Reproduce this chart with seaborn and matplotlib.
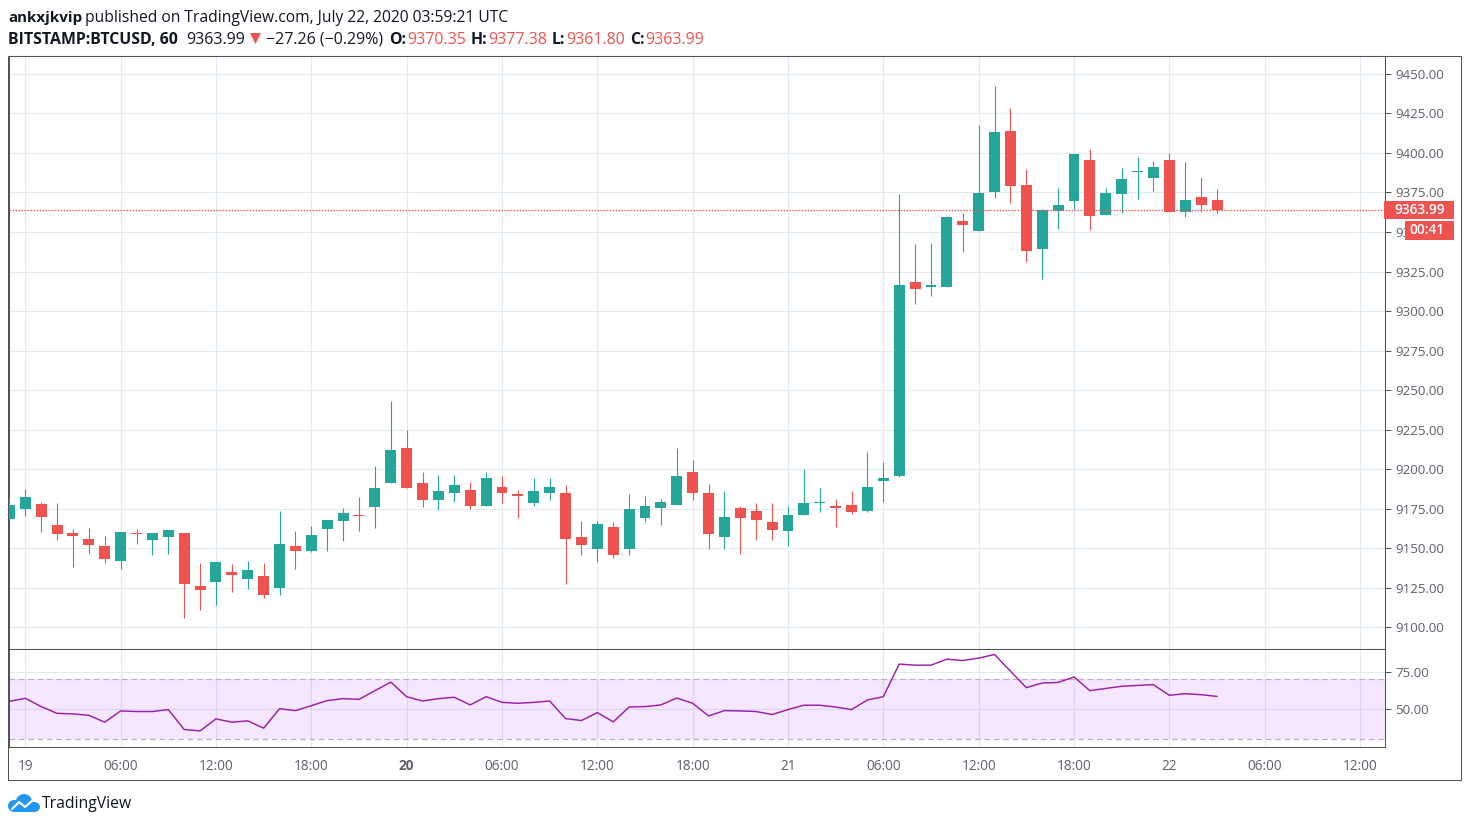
import numpy as np
import pandas as pd
import matplotlib
matplotlib.use("Agg")
import matplotlib.pyplot as plt
from matplotlib.patches import Rectangle, Ellipse, Polygon
import seaborn as sns

# -------------------------------------------------------
# Data (hours counted from Jul 19 00:00)
# -------------------------------------------------------
hours = list(range(-1, 76))

opens = [9168.6, 9174.9, 9178.1, 9164.8, 9159.7, 9155.9, 9151.5, 9142.0, 9159.7, 9155.3,
         9157.2, 9159.7, 9126.2, 9128.7, 9135.0, 9130.6, 9132.5, 9124.9, 9151.5, 9148.3,
         9162.2, 9167.3, 9171.1, 9176.2, 9191.4, 9213.5, 9191.4, 9180.6, 9184.7, 9187.2,
         9176.5, 9189.1, 9184.1, 9179.0, 9185.3, 9185.3, 9156.9, 9149.9, 9163.8, 9149.3,
         9169.5, 9175.8, 9177.7, 9198.6, 9185.3, 9157.5, 9175.8, 9173.9, 9166.4, 9161.3,
         9170.8, 9178.4, 9177.1, 9177.7, 9173.9, 9192.3, 9195.6, 9318.6, 9315.4, 9315.4,
         9357.2, 9350.8, 9375.5, 9414.1, 9380.0, 9339.5, 9363.5, 9369.8, 9395.8, 9361.0,
         9374.3, 9388.2, 9384.4, 9395.8, 9362.9, 9372.4, 9370.35]
highs = [9181.9, 9187.6, 9179.3, 9178.7, 9162.2, 9162.9, 9157.8, 9160.3, 9162.2, 9159.7,
         9161.6, 9159.7, 9140.7, 9142.0, 9140.1, 9142.0, 9140.7, 9173.6, 9161.0, 9164.1,
         9167.9, 9175.5, 9182.5, 9202.1, 9243.2, 9224.9, 9198.3, 9196.4, 9196.1, 9191.7,
         9198.0, 9195.5, 9187.2, 9194.2, 9194.2, 9189.8, 9167.0, 9167.0, 9166.4, 9184.1,
         9183.4, 9180.9, 9213.2, 9205.6, 9190.4, 9186.0, 9176.5, 9178.4, 9179.0, 9176.5,
         9199.9, 9187.9, 9180.9, 9186.0, 9210.7, 9204.3, 9374.3, 9342.6, 9343.2, 9360.3,
         9362.2, 9417.9, 9442.6, 9428.1, 9390.1, 9364.8, 9378.1, 9399.6, 9402.7, 9378.1,
         9390.7, 9397.6, 9395.1, 9400.2, 9394.5, 9385.0, 9377.38]
lows = [9168.6, 9170.5, 9160.3, 9155.3, 9138.2, 9146.4, 9140.7, 9137.0, 9152.7, 9145.8,
        9146.4, 9105.9, 9111.0, 9114.1, 9122.4, 9124.3, 9118.6, 9120.5, 9136.9, 9147.7,
        9148.3, 9154.6, 9161.0, 9162.9, 9191.4, 9188.2, 9176.2, 9174.3, 9179.6, 9174.6,
        9176.5, 9179.0, 9169.5, 9177.1, 9180.3, 9127.7, 9146.1, 9141.7, 9143.6, 9145.5,
        9166.4, 9164.5, 9177.7, 9180.3, 9149.9, 9149.9, 9146.7, 9155.0, 9155.6, 9151.8,
        9170.8, 9172.7, 9163.8, 9172.0, 9172.7, 9179.6, 9195.0, 9304.6, 9309.7, 9315.4,
        9337.5, 9350.8, 9371.7, 9368.6, 9331.2, 9320.5, 9352.1, 9364.8, 9351.5, 9361.0,
        9362.2, 9371.1, 9376.2, 9362.9, 9359.7, 9362.9, 9361.80]
closes = [9177.4, 9182.5, 9169.8, 9159.1, 9157.8, 9152.1, 9143.2, 9160.3, 9159.1, 9159.7,
          9161.6, 9127.4, 9123.6, 9141.4, 9133.1, 9136.3, 9120.5, 9152.7, 9148.3, 9158.4,
          9167.9, 9172.4, 9170.5, 9188.2, 9212.2, 9188.2, 9180.6, 9186.3, 9189.8, 9176.5,
          9194.2, 9184.7, 9182.8, 9186.0, 9188.5, 9156.2, 9152.4, 9165.7, 9145.5, 9175.2,
          9176.5, 9179.6, 9195.5, 9184.7, 9158.8, 9170.1, 9169.5, 9168.2, 9161.9, 9170.8,
          9179.0, 9179.6, 9175.8, 9172.7, 9188.5, 9194.8, 9316.7, 9314.1, 9316.7, 9359.7,
          9354.6, 9374.9, 9413.5, 9379.3, 9338.2, 9364.1, 9367.3, 9399.6, 9360.3, 9374.9,
          9383.8, 9388.8, 9391.4, 9362.9, 9370.5, 9367.3, 9363.99]

rsi = [55.3, 57.3, 51.8, 47.3, 46.9, 46.0, 41.4, 48.9, 48.5, 48.5, 49.8, 36.5, 35.6, 43.6,
       41.4, 42.3, 37.4, 50.4, 49.1, 52.4, 55.8, 57.1, 56.6, 62.4, 68.1, 58.4, 55.5, 57.1,
       58.0, 52.9, 58.4, 54.6, 54.0, 54.6, 55.5, 43.8, 42.5, 47.8, 41.6, 51.5, 51.8, 52.9,
       57.5, 54.0, 45.6, 49.1, 48.9, 48.5, 46.5, 49.8, 52.7, 52.7, 51.5, 49.8, 56.2, 58.4,
       80.1, 79.4, 79.4, 83.4, 82.5, 84.1, 86.5, 75.4, 64.4, 67.5, 67.9, 71.5, 62.4, 63.9,
       65.3, 65.9, 66.4, 59.3, 60.4, 59.7, 58.6]

time_ticks = [0, 6, 12, 18, 24, 30, 36, 42, 48, 54, 60, 66, 72, 78, 84]
time_labels = ["19", "06:00", "12:00", "18:00", "20", "06:00", "12:00", "18:00",
               "21", "06:00", "12:00", "18:00", "22", "06:00", "12:00"]
price_ticks = [9100, 9125, 9150, 9175, 9200, 9225, 9250, 9275, 9300, 9325, 9350, 9375, 9400, 9425, 9450]
rsi_ticks = [50, 75]
last_price = 9363.99

# -------------------------------------------------------
# Styling
# -------------------------------------------------------
UP = "#26a69a"
DOWN = "#ef5350"
GRID = "#e1ecf2"
FRAME = "#50535e"
LABEL = "#5d606b"
RSI_LINE = "#9c1fa5"
W, H = 1470, 826

sns.set_theme(style="white")
plt.rcParams["font.family"] = ["Open Sans", "DejaVu Sans"]

df = pd.DataFrame({"hour": hours, "open": opens, "high": highs, "low": lows,
                   "close": closes, "rsi": rsi})
df["color"] = np.where(df["close"] >= df["open"], UP, DOWN)

fig = plt.figure(figsize=(W / 100, H / 100), dpi=100, facecolor="white")


def pane(left, top, right, bottom):
    return fig.add_axes([left / W, 1 - bottom / H, (right - left) / W, (bottom - top) / H])


ax = pane(8.5, 55.5, 1384.5, 648.5)
ax_rsi = pane(8.5, 648.5, 1384.5, 746.5)

xlim = (-1.057, 85.54)

# -------------------------------------------------------
# Price pane
# -------------------------------------------------------
ax.set_xlim(*xlim)
ax.set_ylim(9086.7, 9461.6)
ax.set_axisbelow(True)
ax.grid(True, color=GRID, lw=0.8)
ax.vlines(df["hour"], df["low"], df["high"], colors=df["color"], lw=0.8, zorder=3)
ax.bar(df["hour"], (df["close"] - df["open"]).abs(), bottom=df[["open", "close"]].min(axis=1),
       width=0.69, color=df["color"], linewidth=0, zorder=4)
ax.axhline(last_price, color=DOWN, lw=0.9, ls=(0, (1.2, 1.2)), zorder=5)
ax.set_xticks(time_ticks)
ax.set_yticks(price_ticks)
ax.tick_params(axis="x", length=0, labelbottom=False)
ax.yaxis.tick_right()
ax.tick_params(axis="y", length=4, width=0.72, color=FRAME, labelcolor=LABEL, labelsize=9.6, pad=3.6)
ax.set_yticklabels([f"{p:.2f}" for p in price_ticks])

# -------------------------------------------------------
# RSI pane
# -------------------------------------------------------
ax_rsi.set_xlim(*xlim)
ax_rsi.set_ylim(25.2, 90.5)
ax_rsi.set_axisbelow(True)
ax_rsi.grid(True, color=GRID, lw=0.8)
ax_rsi.axhspan(30, 70, color="#9915ff", alpha=0.1, lw=0, zorder=1)
for level in (30, 70):
    ax_rsi.axhline(level, color="#c3a9cf", lw=0.9, ls=(0, (4.5, 3)), zorder=2)
sns.lineplot(data=df, x="hour", y="rsi", ax=ax_rsi, color=RSI_LINE, lw=1.05, errorbar=None, zorder=3)
ax_rsi.set_xlabel("")
ax_rsi.set_ylabel("")
ax_rsi.set_xticks(time_ticks)
ax_rsi.set_xticklabels(time_labels)
ax_rsi.set_yticks(rsi_ticks)
ax_rsi.yaxis.tick_right()
ax_rsi.set_yticklabels([f"{v:.2f}" for v in rsi_ticks])
ax_rsi.tick_params(axis="y", length=4, width=0.72, color=FRAME, labelcolor=LABEL, labelsize=9.6, pad=3.6)
ax_rsi.tick_params(axis="x", length=3, width=0.72, color=FRAME, labelcolor=LABEL, labelsize=9.8, pad=6)
for lab in ax_rsi.get_xticklabels():
    if lab.get_text() == "20":
        lab.set_fontweight("bold")

for a in (ax, ax_rsi):
    for s in a.spines.values():
        s.set_color(FRAME)
        s.set_linewidth(0.75)

# -------------------------------------------------------
# Overlay in pixel coordinates: frame, header, price tags, logo
# -------------------------------------------------------
ov = fig.add_axes([0, 0, 1, 1], facecolor="none", zorder=10)
ov.set_xlim(0, W)
ov.set_ylim(H, 0)
ov.axis("off")

ov.add_patch(Rectangle((8.5, 55.5), 1452.5, 724, fill=False, ec=FRAME, lw=0.75))

ov.add_patch(Rectangle((1384, 201), 70, 18, fc=DOWN, ec="none"))
ov.add_patch(Rectangle((1405, 221), 49, 19, fc=DOWN, ec="none"))
ov.text(1419.5, 209.5, "9363.99", color="white", fontsize=9.8, fontweight="semibold", ha="center", va="center")
ov.text(1427, 229.5, "00:41", color="white", fontsize=9.8, fontweight="semibold", ha="center", va="center")

DARK = "#131722"
header = [
    (8, 18, "ankxjkvip", DARK, "bold", 10.9),
    (85, 18, "published on TradingView.com, July 22, 2020 03:59:21 UTC", DARK, "normal", 11.25),
    (8, 40, "BITSTAMP:BTCUSD, 60", DARK, "bold", 11.45),
    (186, 40, "9363.99", DARK, "normal", 11.5),
    (266, 40, "\u221227.26 (\u22120.29%)", DARK, "normal", 11.5),
    (389, 40, "O:", DARK, "bold", 11.4),
    (407, 40, "9370.35", DOWN, "normal", 11.5),
    (471, 40, "H:", DARK, "bold", 11.4),
    (488, 40, "9377.38", DOWN, "normal", 11.5),
    (552, 40, "L:", DARK, "bold", 11.4),
    (566, 40, "9361.80", DOWN, "normal", 11.5),
    (630, 40, "C:", DARK, "bold", 11.4),
    (645, 40, "9363.99", DOWN, "normal", 11.5),
]
for tx, ty, s, c, w, fs in header:
    ov.text(tx, ty, s, color=c, fontweight=w, fontsize=fs, ha="left", va="center")
ov.add_patch(Polygon([(250, 33), (261, 33), (255.5, 44)], fc=DOWN, ec="none"))

# TradingView logo
BLUE = "#2196f3"
ov.add_patch(Rectangle((13, 803), 22, 9, fc=BLUE, ec="none"))
ov.add_patch(Ellipse((14, 806), 12, 12, fc=BLUE, ec="none"))
ov.add_patch(Ellipse((24, 803), 17, 18, fc=BLUE, ec="none"))
ov.add_patch(Ellipse((34, 807), 12, 10, fc=BLUE, ec="none"))
ov.plot([12, 19, 25, 33], [809, 802, 807, 800], color="white", lw=1.6)
ov.text(42, 804.5, "TradingView", color=DARK, fontsize=11.3, ha="left", va="center")

fig.savefig("out.png", dpi=100)
